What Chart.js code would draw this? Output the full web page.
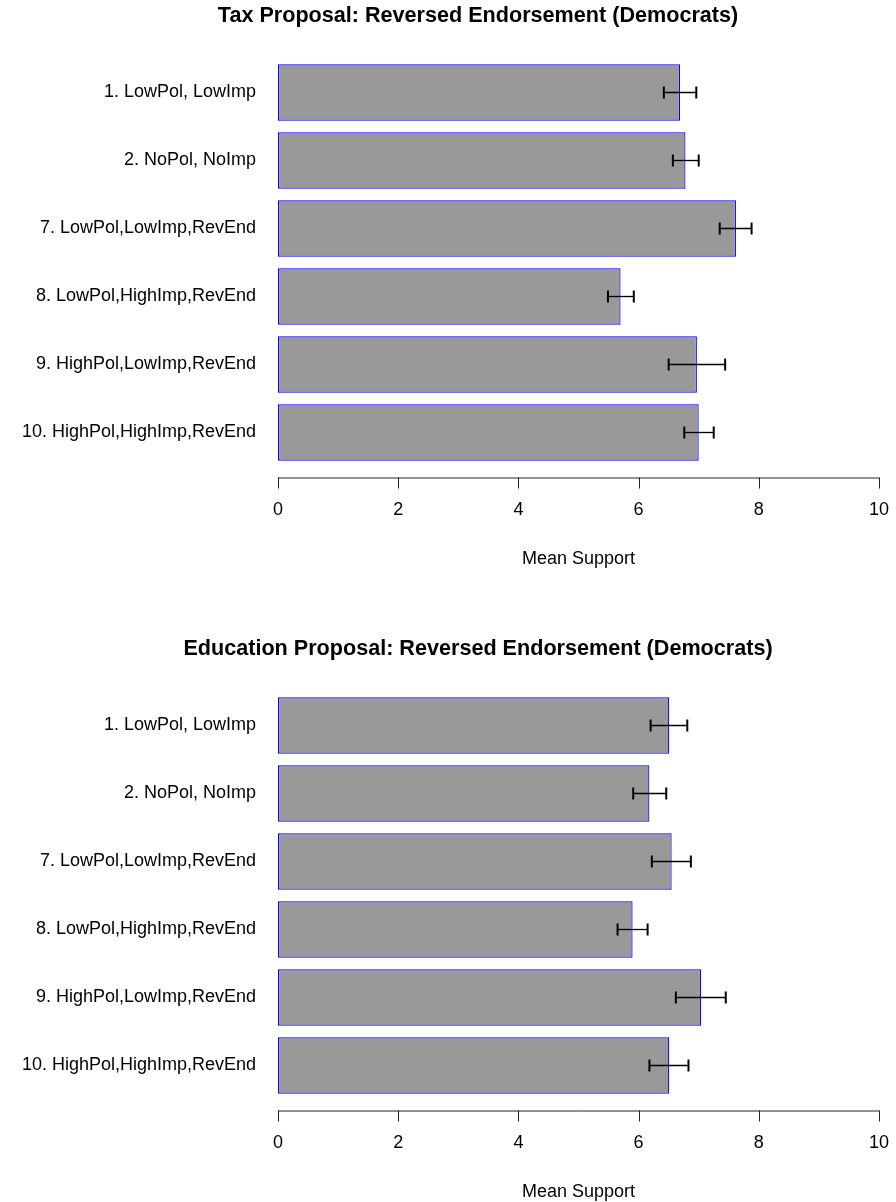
<!DOCTYPE html>
<html>
<head>
<meta charset="utf-8">
<script src="https://cdn.jsdelivr.net/npm/chart.js@4.4.1/dist/chart.umd.min.js"></script>
<style>
html, body { margin: 0; padding: 0; background: #fff; overflow: hidden; }
#wrap { position: relative; width: 896px; height: 1202px; overflow: hidden; }
.panel { position: absolute; left: 0; width: 896px; height: 633px; }
</style>
</head>
<body>
<div id="wrap">
  <div class="panel" style="top:0"><canvas id="taxChart" width="896" height="633"></canvas></div>
  <div class="panel" style="top:633px"><canvas id="eduChart" width="896" height="633"></canvas></div>
</div>
<script>
(() => {
'use strict';

const conditions = [
    '1. LowPol, LowImp',
    '2. NoPol, NoImp',
    '7. LowPol,LowImp,RevEnd',
    '8. LowPol,HighImp,RevEnd',
    '9. HighPol,LowImp,RevEnd',
    '10. HighPol,HighImp,RevEnd'
];

// Tax proposal: mean support and interval ends
const taxMeans = [6.69, 6.78, 7.62, 5.70, 6.97, 7.00];
const taxLower = [6.42, 6.57, 7.35, 5.49, 6.50, 6.76];
const taxUpper = [6.96, 7.00, 7.88, 5.92, 7.44, 7.25];

// Education proposal
const eduMeans = [6.51, 6.18, 6.55, 5.90, 7.04, 6.51];
const eduLower = [6.20, 5.91, 6.22, 5.65, 6.62, 6.18];
const eduUpper = [6.81, 6.46, 6.87, 6.15, 7.45, 6.83];

const xTicks = [0, 2, 4, 6, 8, 10];
const xTitle = 'Mean Support';

const FONT = '"Liberation Sans", Arial, Helvetica, sans-serif';
const LABEL_PX = 18;

// whiskers with end caps, drawn after the bars
const errorBars = {
    id: 'errorBars',
    afterDatasetsDraw(chart, args, opts) {
        const ctx = chart.ctx;
        const xs = chart.scales.x;
        const meta = chart.getDatasetMeta(0);
        ctx.save();
        ctx.strokeStyle = '#000';
        meta.data.forEach((bar, i) => {
            const x0 = xs.getPixelForValue(opts.lower[i]);
            const x1 = xs.getPixelForValue(opts.upper[i]);
            const y = bar.y;
            ctx.lineWidth = 1.3;
            ctx.beginPath();
            ctx.moveTo(x0, y); ctx.lineTo(x1, y);
            ctx.stroke();
            ctx.lineWidth = 2;
            ctx.beginPath();
            ctx.moveTo(x0, y - 6); ctx.lineTo(x0, y + 6);
            ctx.moveTo(x1, y - 6); ctx.lineTo(x1, y + 6);
            ctx.stroke();
        });
        ctx.restore();
    }
};

// base-graphics style bottom axis, detached below the bars, plus titles
const rAxis = {
    id: 'rAxis',
    afterDraw(chart, args, opts) {
        const ctx = chart.ctx;
        const xs = chart.scales.x;
        const area = chart.chartArea;
        const axisY = area.bottom + 11;
        ctx.save();
        ctx.strokeStyle = '#222';
        ctx.lineWidth = 1;
        ctx.beginPath();
        ctx.moveTo(xs.getPixelForValue(xTicks[0]), axisY + 0.5);
        ctx.lineTo(xs.getPixelForValue(xTicks[xTicks.length - 1]), axisY + 0.5);
        xTicks.forEach(t => {
            const px = Math.round(xs.getPixelForValue(t)) + 0.5;
            ctx.moveTo(px, axisY);
            ctx.lineTo(px, axisY + 11);
        });
        ctx.stroke();

        ctx.fillStyle = '#000';
        ctx.font = `${LABEL_PX}px ${FONT}`;
        ctx.textAlign = 'center';
        ctx.textBaseline = 'middle';
        xTicks.forEach(t => ctx.fillText(String(t), xs.getPixelForValue(t), axisY + 33));
        ctx.fillText(xTitle, (area.left + area.right) / 2, axisY + 82);

        ctx.font = `bold 21.6px ${FONT}`;
        ctx.fillText(opts.title, opts.titleX, 16);
        ctx.restore();
    }
};

function makeChart(id, title, means, lower, upper) {
    const ctx = document.getElementById(id).getContext('2d');
    return new Chart(ctx, {
        type: 'bar',
        data: {
            labels: conditions,
            datasets: [{
                data: means,
                backgroundColor: '#999999',
                borderColor: '#0000ff',
                borderWidth: 1.2,
                borderSkipped: false,
                barPercentage: 0.83,
                categoryPercentage: 1
            }]
        },
        options: {
            indexAxis: 'y',
            responsive: false,
            animation: false,
            devicePixelRatio: 1,
            layout: { padding: { top: 58.5, right: 17, bottom: 166.5, left: 0 } },
            scales: {
                x: { display: false, min: 0, max: 10 },
                y: {
                    afterFit: s => { s.width = 278; },
                    grid: { display: false, drawTicks: false },
                    border: { display: false },
                    ticks: { color: '#000', padding: 22, font: { family: FONT, size: LABEL_PX } }
                }
            },
            plugins: {
                legend: { display: false },
                tooltip: { enabled: false },
                title: { display: false },
                errorBars: { lower, upper },
                rAxis: { title, titleX: 478 }
            }
        },
        plugins: [errorBars, rAxis]
    });
}

makeChart('taxChart', 'Tax Proposal: Reversed Endorsement (Democrats)', taxMeans, taxLower, taxUpper);
makeChart('eduChart', 'Education Proposal: Reversed Endorsement (Democrats)', eduMeans, eduLower, eduUpper);

})();
</script>
</body>
</html>
